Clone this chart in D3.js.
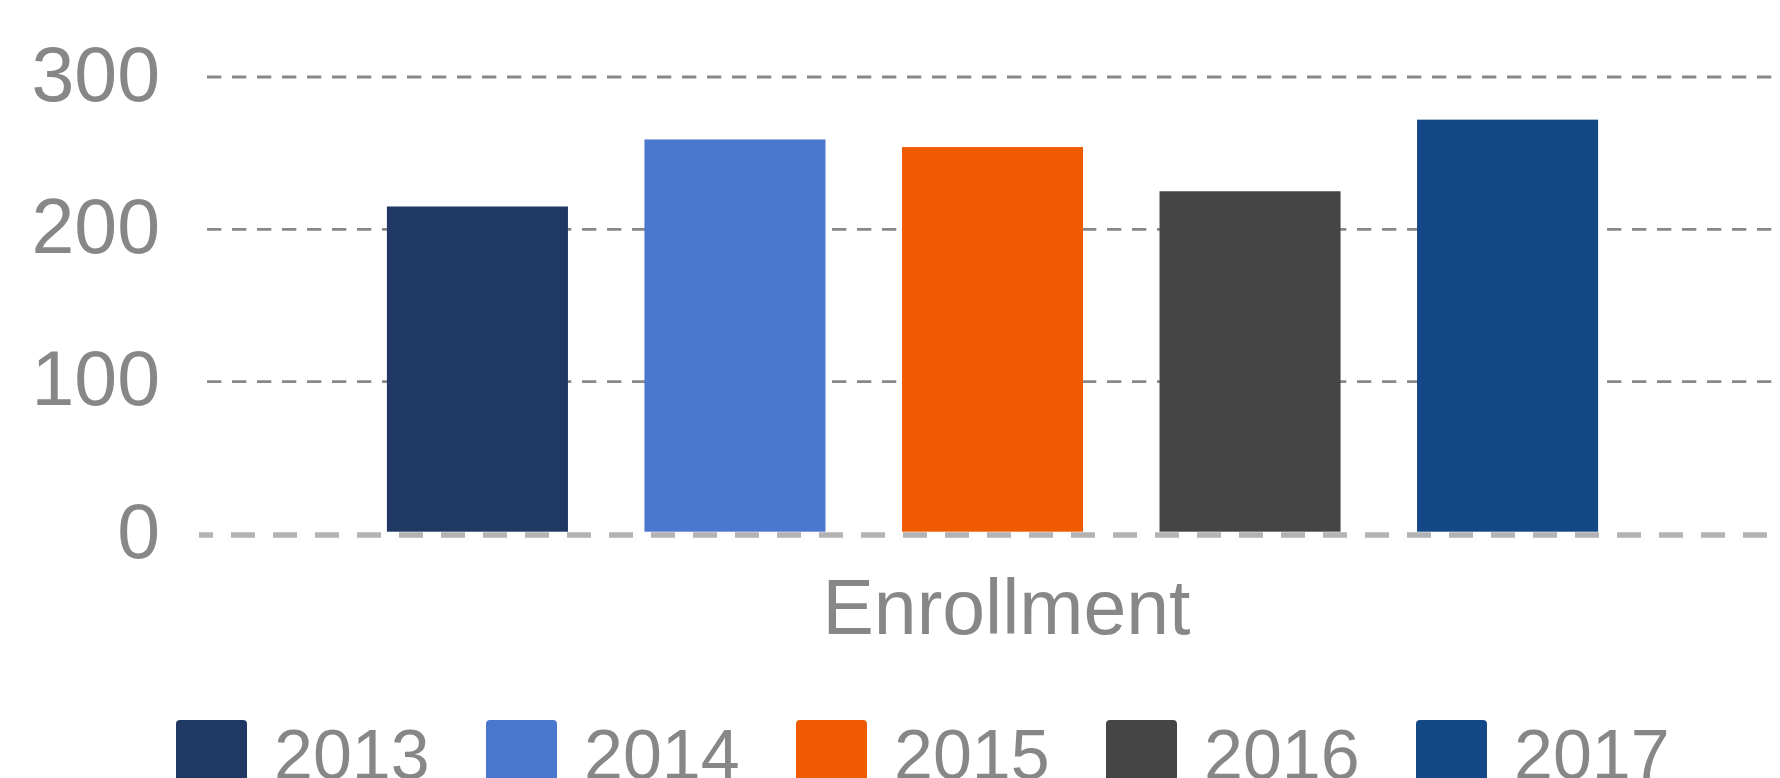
<!DOCTYPE html>
<html>
<head>
<meta charset="utf-8">
<script src="https://cdn.jsdelivr.net/npm/d3@7"></script>
<style>
  html, body { margin: 0; padding: 0; background: #fff; }
  svg { display: block; font-family: "Liberation Sans", Arial, sans-serif; }
</style>
</head>
<body>
<svg id="chart" width="1780" height="778"></svg>
<script>
const categories = ["Enrollment"];
const years = ["2013", "2014", "2015", "2016", "2017"];
const values = [215, 259, 254, 225, 272];
const colors = ["#1f3864", "#4a78cf", "#f05a00", "#454545", "#134785"];
const yTicks = [0, 100, 200, 300];

const W = 1780, H = 778;
const svg = d3.select("#chart");

const y = d3.scaleLinear().domain([0, 300]).range([534, 77]);
const x0 = d3.scaleBand().domain(categories).range([207, 1778]).paddingInner(0).paddingOuter(0.110);
const x1 = d3.scaleBand().domain(years).range([0, x0.bandwidth()]).paddingInner(0.297).paddingOuter(0.1485);
const color = d3.scaleOrdinal().domain(years).range(colors);

const textColor = "#878787";

// gridlines (non-zero)
svg.append("g").selectAll("line")
  .data(yTicks.filter(d => d !== 0))
  .join("line")
  .attr("x1", 207).attr("x2", W)
  .attr("y1", d => y(d)).attr("y2", d => y(d))
  .attr("stroke", "#888888")
  .attr("stroke-width", 2.8)
  .attr("stroke-dasharray", "14.3,10.7");

// zero line
svg.append("line")
  .attr("x1", 199).attr("x2", W)
  .attr("y1", y(0) + 1).attr("y2", y(0) + 1)
  .attr("stroke", "#b3b3b3")
  .attr("stroke-width", 5.7)
  .attr("stroke-dasharray", "24,18")
  .attr("stroke-dashoffset", 10);

// y axis labels
const yAxis = d3.axisLeft(y).tickValues(yTicks).tickSize(0).tickPadding(0);
const gy = svg.append("g").attr("transform", "translate(160,0)").call(yAxis);
gy.select(".domain").remove();
gy.selectAll("text")
  .attr("fill", textColor)
  .attr("font-size", 77)
  .attr("font-family", "'Liberation Sans', Arial, sans-serif")
  .attr("dy", "0.3em");

// bars
const data = years.map((yr, i) => ({ cat: categories[0], year: yr, value: values[i] }));
svg.append("g").selectAll("rect")
  .data(data)
  .join("rect")
  .attr("x", d => x0(d.cat) + x1(d.year))
  .attr("width", x1.bandwidth())
  .attr("y", d => y(d.value))
  .attr("height", d => y(0) - 2.3 - y(d.value))
  .attr("fill", d => color(d.year));

// x axis label
svg.append("g").selectAll("text")
  .data(categories)
  .join("text")
  .attr("x", d => x0(d) + x0.bandwidth() / 2 + 14)
  .attr("y", 633.5)
  .attr("text-anchor", "middle")
  .attr("fill", textColor)
  .attr("font-size", 77)
  .text(d => d);

// legend
const lx = d3.scalePoint().domain(years).range([176, 1416]);
const lg = svg.append("g").selectAll("g")
  .data(years)
  .join("g")
  .attr("transform", d => `translate(${lx(d)},720)`);
lg.append("rect")
  .attr("width", 71).attr("height", 71)
  .attr("rx", 4).attr("ry", 4)
  .attr("fill", d => color(d));
lg.append("text")
  .attr("x", 98)
  .attr("y", 59)
  .attr("fill", textColor)
  .attr("font-size", 70)
  .text(d => d);
</script>
</body>
</html>
